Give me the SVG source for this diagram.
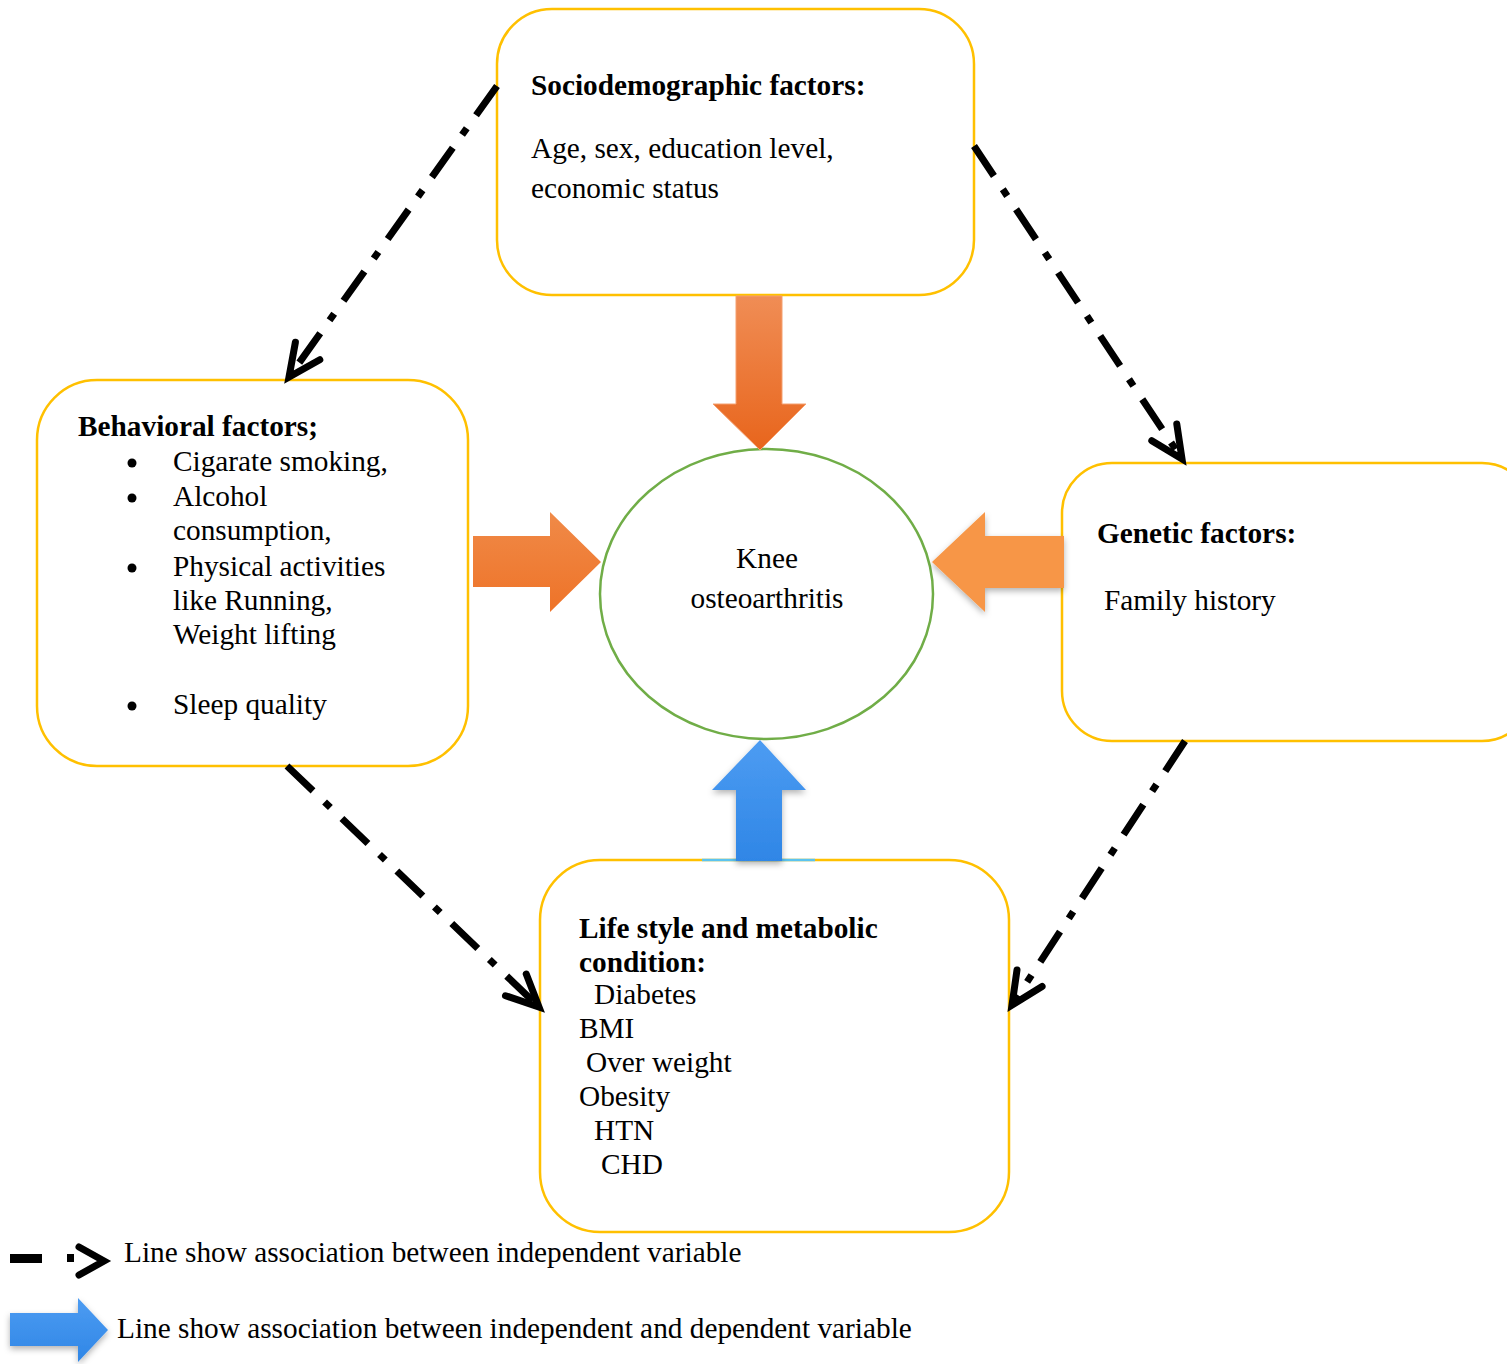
<svg xmlns="http://www.w3.org/2000/svg" width="1507" height="1364" viewBox="0 0 1507 1364">
<style>
.box{fill:#fff;stroke:#FFC000;stroke-width:2.5}
.t{font-family:"Liberation Serif","Times New Roman",serif;font-size:29.3px;fill:#000}
.b{font-weight:bold}
.dash{fill:none;stroke:#000;stroke-width:7;stroke-dasharray:36 16 8 16}
</style>
<defs>
<marker id="chev" markerUnits="userSpaceOnUse" markerWidth="40" markerHeight="40" refX="0" refY="0" orient="auto" overflow="visible">
<path d="M-32,-15 L0,0 L-32,15" fill="none" stroke="#000" stroke-width="7" stroke-linecap="round" stroke-linejoin="miter" stroke-dasharray="none"/>
</marker>
<linearGradient id="gDown" x1="0" y1="0" x2="0" y2="1">
<stop offset="0" stop-color="#F08D55"/>
<stop offset="1" stop-color="#E8651C"/>
</linearGradient>
<linearGradient id="gRight" x1="0" y1="0" x2="0" y2="1">
<stop offset="0" stop-color="#F08A48"/>
<stop offset="1" stop-color="#EE7328"/>
</linearGradient>
<linearGradient id="gBlue" x1="0" y1="0" x2="0" y2="1">
<stop offset="0" stop-color="#4D9CF2"/>
<stop offset="1" stop-color="#2F86E6"/>
</linearGradient>
<filter id="sh" x="-20%" y="-20%" width="140%" height="150%">
<feDropShadow dx="0" dy="3" stdDeviation="3" flood-color="#000" flood-opacity="0.3"/>
</filter>
</defs>

<g id="socio">
<rect class="box" x="497" y="9" width="477" height="286" rx="55"/>
<text class="t b" x="531" y="95">Sociodemographic factors:</text>
<text class="t" x="531" y="158">Age, sex, education level,</text>
<text class="t" x="531" y="198">economic status</text>
</g>

<g id="behavioral">
<rect class="box" x="37" y="380" width="431" height="386" rx="60"/>
<text class="t b" x="78" y="436">Behavioral factors;</text>
<circle cx="132" cy="463" r="4.5"/>
<circle cx="132" cy="498" r="4.5"/>
<circle cx="132" cy="568" r="4.5"/>
<circle cx="132" cy="706" r="4.5"/>
<text class="t" x="173" y="471">Cigarate smoking,</text>
<text class="t" x="173" y="506">Alcohol</text>
<text class="t" x="173" y="540">consumption,</text>
<text class="t" x="173" y="576">Physical activities</text>
<text class="t" x="173" y="610">like Running,</text>
<text class="t" x="173" y="644">Weight lifting</text>
<text class="t" x="173" y="714">Sleep quality</text>
</g>

<g id="genetic">
<rect class="box" x="1062" y="463" width="470" height="278" rx="50"/>
<text class="t b" x="1097" y="543">Genetic factors:</text>
<text class="t" x="1104" y="610">Family history</text>
</g>

<g id="lifestyle">
<rect class="box" x="540" y="860" width="469" height="372" rx="60"/>
<text class="t b" x="579" y="938">Life style and metabolic</text>
<text class="t b" x="579" y="972">condition:</text>
<text class="t" x="594" y="1004">Diabetes</text>
<text class="t" x="579" y="1038">BMI</text>
<text class="t" x="586" y="1072">Over weight</text>
<text class="t" x="579" y="1106">Obesity</text>
<text class="t" x="594" y="1140">HTN</text>
<text class="t" x="601" y="1174">CHD</text>
</g>

<g id="knee">
<ellipse cx="766.5" cy="594" rx="166.5" ry="145" fill="#fff" stroke="#70AD47" stroke-width="2.5"/>
<text class="t" x="767" y="568" text-anchor="middle">Knee</text>
<text class="t" x="767" y="608" text-anchor="middle">osteoarthritis</text>
</g>

<g id="connectors">
<polygon points="736,296 782,296 782,404 806,404 760,450 713,404 736,404" fill="url(#gDown)" stroke="#F4A070" stroke-width="1"/>
<polygon points="473,536 550,536 550,512 601,562 550,612 550,587 473,587" fill="url(#gRight)"/>
<polygon points="1064,536 985,536 985,512 932,562 985,612 985,588 1064,588" fill="#F79646" filter="url(#sh)"/>
<line x1="702" y1="860" x2="815" y2="860" stroke="#5BC4EF" stroke-width="2.5"/>
<polygon points="736,861 736,790 712,790 760,740 806,790 782,790 782,861" fill="url(#gBlue)" filter="url(#sh)"/>

<path class="dash" d="M497,86 L289,377" marker-end="url(#chev)"/>
<path class="dash" d="M974,146 L1182,459" marker-end="url(#chev)"/>
<path class="dash" d="M287,766 L539,1007" marker-end="url(#chev)"/>
<path class="dash" d="M1185,741 L1012,1005" marker-end="url(#chev)"/>
</g>

<g id="legend">
<rect x="10" y="1254" width="32" height="9" fill="#000"/>
<rect x="67" y="1254" width="7" height="8" fill="#000"/>
<polyline points="79,1247 104,1261 79,1275" fill="none" stroke="#000" stroke-width="7" stroke-linecap="round"/>
<text class="t" x="124" y="1262">Line show association between independent variable</text>
<polygon points="10,1313 78,1313 78,1298 108,1330 78,1362 78,1346 10,1346" fill="url(#gBlue)" filter="url(#sh)"/>
<text class="t" x="117" y="1338">Line show association between independent and dependent variable</text>
</g>
</svg>
